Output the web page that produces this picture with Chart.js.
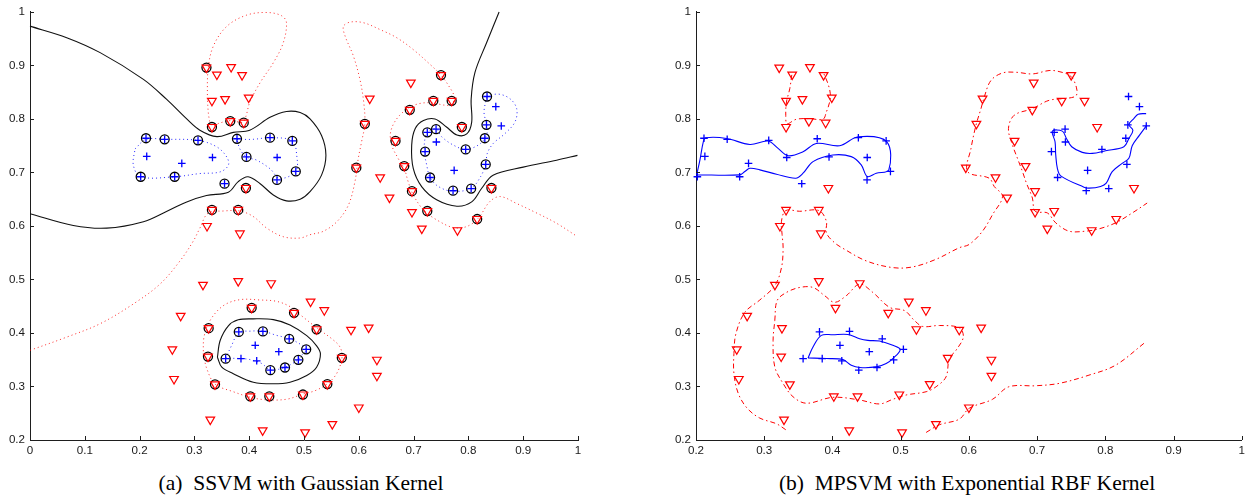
<!DOCTYPE html>
<html><head><meta charset="utf-8">
<script src="https://cdn.jsdelivr.net/npm/chart.js@4/dist/chart.umd.min.js"></script>
<style>
html,body{margin:0;padding:0;background:#fff;width:1249px;height:504px;overflow:hidden}
#wa{position:absolute;left:0;top:0;width:600px;height:460px}
#wb{position:absolute;left:640px;top:0;width:609px;height:460px}
.cap{position:absolute;top:473px;font-family:"Liberation Serif","Times New Roman",serif;font-size:21.5px;line-height:21.5px;color:#000;white-space:pre;transform:translateX(-50%)}
</style></head><body>
<div id="wa"><canvas id="ca"></canvas></div>
<div id="wb"><canvas id="cb"></canvas></div>
<div class="cap" style="left:301px">(a)  SSVM with Gaussian Kernel</div>
<div class="cap" style="left:967px">(b)  MPSVM with Exponential RBF Kernel</div>
<script>
// ---------- tick labels ----------
const xTicksA = [0,0.1,0.2,0.3,0.4,0.5,0.6,0.7,0.8,0.9,1];
const xLabelsA = ['0','0.1','0.2','0.3','0.4','0.5','0.6','0.7','0.8','0.9','1'];
const xTicksB = [0.2,0.3,0.4,0.5,0.6,0.7,0.8,0.9,1];
const xLabelsB = ['0.2','0.3','0.4','0.5','0.6','0.7','0.8','0.9','1'];
const yTicks = [0.2,0.3,0.4,0.5,0.6,0.7,0.8,0.9,1];
const yLabels = ['0.2','0.3','0.4','0.5','0.6','0.7','0.8','0.9','1'];

// ---------- samples: [x, y, isSupportVector] ----------
const negClass = [
 [0.322,0.896,1],[0.341,0.883,0],[0.367,0.897,0],[0.387,0.882,0],[0.332,0.834,0],[0.356,0.837,0],[0.399,0.840,0],
 [0.332,0.785,1],[0.3655,0.796,1],[0.390,0.793,1],[0.394,0.671,1],[0.332,0.630,1],[0.380,0.630,1],[0.323,0.600,0],[0.383,0.586,0],
 [0.750,0.882,1],[0.695,0.868,0],[0.620,0.838,0],[0.736,0.834,1],[0.7695,0.834,1],[0.693,0.817,1],[0.611,0.791,1],[0.788,0.785,1],
 [0.667,0.759,1],[0.5955,0.709,1],[0.683,0.712,1],[0.639,0.691,0],[0.656,0.653,0],[0.697,0.665,1],[0.697,0.626,0],[0.725,0.628,1],
 [0.715,0.595,0],[0.780,0.592,0],[0.816,0.613,1],[0.842,0.671,1],
 [0.3157,0.490,0],[0.380,0.497,0],[0.440,0.493,0],[0.4045,0.447,1],[0.4818,0.4376,1],[0.275,0.432,0],[0.326,0.409,1],
 [0.2597,0.3695,0],[0.3248,0.356,1],[0.2628,0.314,0],[0.3376,0.304,1],[0.402,0.2817,1],[0.4367,0.2817,1],[0.329,0.238,0],[0.4246,0.218,0],
 [0.512,0.4586,0],[0.537,0.4426,0],[0.523,0.407,1],[0.5858,0.406,0],[0.618,0.410,0],[0.569,0.3535,1],[0.633,0.350,0],[0.633,0.320,0],
 [0.5426,0.3045,1],[0.498,0.285,1],[0.600,0.2607,0],[0.5517,0.2297,0],[0.502,0.2143,0]
];
const posClass = [
 [0.2117,0.764,1],[0.2457,0.762,1],[0.3066,0.760,1],[0.3777,0.763,1],[0.438,0.765,1],[0.4787,0.759,1],[0.213,0.730,0],[0.277,0.717,0],
 [0.333,0.728,0],[0.395,0.729,1],[0.451,0.728,0],[0.202,0.692,1],[0.264,0.692,1],[0.355,0.679,1],[0.4507,0.686,1],[0.485,0.702,1],
 [0.834,0.842,1],[0.850,0.823,0],[0.860,0.787,0],[0.833,0.789,1],[0.741,0.781,1],[0.725,0.775,1],[0.830,0.764,1],[0.7415,0.757,0],
 [0.795,0.743,1],[0.721,0.739,1],[0.8316,0.715,1],[0.774,0.704,0],[0.730,0.6906,1],[0.772,0.666,1],[0.805,0.670,1],
 [0.381,0.402,1],[0.425,0.403,1],[0.473,0.389,1],[0.411,0.377,0],[0.454,0.365,0],[0.357,0.352,1],[0.385,0.352,0],[0.4137,0.348,0],
 [0.4386,0.3305,1],[0.4653,0.3355,1],[0.4897,0.3498,1],[0.504,0.3695,1]
];

// ---------- (a) SSVM contour traces ----------
const ssvmZeroA = [[0,0.9735],[0.067,0.952],[0.128,0.924],[0.207,0.874],[0.249,0.837],[0.286,0.800],[0.310,0.779],[0.341,0.767],[0.371,0.775],[0.401,0.779],[0.438,0.803],[0.468,0.814],[0.493,0.812],[0.511,0.800],[0.532,0.769],[0.540,0.732],[0.532,0.695],[0.511,0.664],[0.493,0.650],[0.468,0.647],[0.444,0.658],[0.420,0.679],[0.398,0.692],[0.380,0.683],[0.362,0.663],[0.322,0.657],[0.286,0.645],[0.249,0.627],[0.207,0.608],[0.140,0.596],[0.079,0.601],[0,0.623]];
const ssvmZeroB = [[0.856,1.0],[0.833,0.942],[0.812,0.887],[0.805,0.837],[0.806,0.794],[0.797,0.772],[0.779,0.770],[0.760,0.785],[0.739,0.800],[0.718,0.797],[0.703,0.782],[0.6965,0.751],[0.6995,0.707],[0.715,0.673],[0.742,0.649],[0.779,0.637],[0.806,0.645],[0.824,0.670],[0.845,0.695],[0.900,0.710],[0.961,0.723],[0.999,0.732]];
const ssvmZeroC = [[0.342,0.3546],[0.347,0.386],[0.362,0.4135],[0.380,0.4246],[0.4075,0.4264],[0.444,0.425],[0.4745,0.415],[0.505,0.395],[0.523,0.376],[0.530,0.361],[0.523,0.336],[0.505,0.3206],[0.4745,0.308],[0.444,0.305],[0.4075,0.308],[0.371,0.324],[0.350,0.336],[0.342,0.3546]];
const ssvmNegA = [[0,0.3676],[0.067,0.3923],[0.1277,0.4172],[0.1886,0.4543],[0.2372,0.4914],[0.2737,0.5347],[0.298,0.5718],[0.310,0.596],[0.325,0.624],[0.353,0.628],[0.383,0.628],[0.4075,0.6176],[0.432,0.596],[0.462,0.580],[0.493,0.5775],[0.511,0.5837],[0.535,0.590],[0.560,0.608],[0.581,0.639],[0.593,0.683],[0.599,0.726],[0.605,0.757],[0.611,0.791],[0.609,0.831],[0.602,0.874],[0.590,0.918],[0.575,0.955],[0.572,0.973],[0.584,0.981],[0.608,0.980],[0.639,0.967],[0.669,0.952],[0.699,0.930],[0.730,0.902],[0.750,0.882],[0.764,0.862],[0.774,0.842],[0.770,0.827],[0.755,0.826],[0.736,0.830],[0.7117,0.829],[0.690,0.820],[0.669,0.800],[0.658,0.775],[0.660,0.751],[0.672,0.726],[0.683,0.707],[0.690,0.683],[0.6995,0.658],[0.718,0.630],[0.742,0.6115],[0.7725,0.597],[0.797,0.599],[0.818,0.6145],[0.839,0.6455],[0.858,0.655],[0.888,0.642],[0.925,0.624],[0.961,0.605],[0.999,0.580]];
const ssvmNegB = [[0.3236,0.837],[0.325,0.893],[0.3345,0.936],[0.359,0.973],[0.395,0.994],[0.432,0.999],[0.459,0.993],[0.468,0.980],[0.462,0.942],[0.444,0.905],[0.420,0.868],[0.401,0.831],[0.394,0.805],[0.388,0.794],[0.366,0.797],[0.345,0.792],[0.333,0.787],[0.327,0.800],[0.3236,0.837]];
const ssvmNegC = [[0.3163,0.3583],[0.3175,0.3923],[0.3285,0.4233],[0.3528,0.4511],[0.3832,0.4623],[0.4197,0.4617],[0.4501,0.4591],[0.4745,0.4493],[0.4927,0.4344],[0.5232,0.4097],[0.5505,0.3893],[0.5657,0.3737],[0.5693,0.354],[0.5597,0.3244],[0.5426,0.3051],[0.5201,0.2921],[0.4982,0.2859],[0.470,0.2765],[0.438,0.2748],[0.4075,0.2785],[0.371,0.2902],[0.3376,0.3045],[0.3236,0.3305],[0.3163,0.3583]];
const ssvmPosA = [[0.1916,0.744],[0.2117,0.762],[0.2457,0.762],[0.3066,0.760],[0.3406,0.748],[0.359,0.729],[0.362,0.7136],[0.3467,0.701],[0.310,0.698],[0.264,0.692],[0.202,0.692],[0.1886,0.7136],[0.1916,0.744]];
const ssvmPosB = [[0.3777,0.762],[0.4075,0.762],[0.438,0.765],[0.4787,0.759],[0.4867,0.732],[0.485,0.702],[0.456,0.689],[0.438,0.707],[0.4137,0.723],[0.395,0.729],[0.383,0.744],[0.3777,0.762]];
const ssvmPosC = [[0.834,0.8422],[0.8546,0.8465],[0.8759,0.8378],[0.8881,0.8192],[0.885,0.7945],[0.8668,0.7728],[0.8454,0.7543],[0.8345,0.7357],[0.8316,0.7153],[0.8224,0.6925],[0.8053,0.6707],[0.7719,0.6646],[0.7451,0.6739],[0.7299,0.6911],[0.7239,0.7141],[0.7195,0.7394],[0.7208,0.7636],[0.725,0.7754],[0.7409,0.7815],[0.7513,0.7667],[0.7725,0.7512],[0.7951,0.7431],[0.8181,0.7512],[0.8303,0.7643],[0.8345,0.776],[0.8334,0.7895],[0.8285,0.8131],[0.834,0.8422]];
const ssvmPosD = [[0.3571,0.3528],[0.368,0.3769],[0.3808,0.401],[0.4015,0.4034],[0.4252,0.4034],[0.4501,0.3955],[0.4732,0.3899],[0.4866,0.383],[0.5042,0.370],[0.4958,0.3583],[0.4897,0.3503],[0.4653,0.3361],[0.4386,0.331],[0.4228,0.343],[0.4015,0.3503],[0.385,0.3522],[0.3571,0.3528]];

// ---------- (b) MPSVM contour traces ----------
const mpPosA = [[0.201,0.6956],[0.2058,0.7234],[0.2107,0.7574],[0.2142,0.7648],[0.2449,0.7636],[0.279,0.7524],[0.3057,0.7587],[0.3203,0.745],[0.335,0.7314],[0.3569,0.7388],[0.3764,0.7543],[0.4105,0.750],[0.438,0.7667],[0.4797,0.7574],[0.4826,0.7049],[0.4642,0.6986],[0.451,0.6924],[0.4422,0.7142],[0.4276,0.7296],[0.4007,0.7327],[0.3715,0.7203],[0.3569,0.6986],[0.3462,0.6893],[0.318,0.6967],[0.2936,0.7049],[0.279,0.7078],[0.2716,0.7017],[0.2643,0.6956],[0.201,0.6956]];
const mpPosB = [[0.8598,0.81],[0.8481,0.8088],[0.8418,0.8007],[0.8345,0.7895],[0.8404,0.7791],[0.8345,0.7636],[0.8272,0.7481],[0.8004,0.7407],[0.7808,0.7357],[0.7662,0.7376],[0.7507,0.7481],[0.7429,0.7636],[0.737,0.7773],[0.7224,0.7773],[0.7263,0.7574],[0.7273,0.7327],[0.7297,0.7078],[0.7346,0.6937],[0.7687,0.6726],[0.776,0.6707],[0.7931,0.6739],[0.8013,0.680],[0.8101,0.7017],[0.8247,0.7171],[0.8345,0.7264],[0.8394,0.750],[0.8501,0.7698],[0.8608,0.7884]];
const mpPosC = [[0.3642,0.3533],[0.3715,0.3738],[0.3837,0.3955],[0.4007,0.3967],[0.4227,0.3973],[0.4398,0.3893],[0.4519,0.3862],[0.469,0.3849],[0.4885,0.3769],[0.4993,0.3689],[0.4885,0.3522],[0.4788,0.3429],[0.4642,0.3366],[0.4398,0.3355],[0.4276,0.3398],[0.4153,0.3503],[0.3911,0.3522],[0.3642,0.3533]];
const mpNegA = [[0.3404,0.8824],[0.3374,0.8563],[0.3326,0.8317],[0.3316,0.8069],[0.3335,0.7914],[0.3472,0.7995],[0.3667,0.8007],[0.3861,0.7995],[0.3911,0.8131],[0.3959,0.8317],[0.3969,0.8471],[0.3935,0.8656],[0.3871,0.8855]];
const mpNegB = [[0.3316,0.2191],[0.318,0.2303],[0.2936,0.2409],[0.275,0.2594],[0.2619,0.2872],[0.2556,0.3244],[0.2556,0.3615],[0.2585,0.3986],[0.2716,0.4387],[0.2936,0.4617],[0.3155,0.4883],[0.3253,0.5222],[0.3277,0.5593],[0.3262,0.5842],[0.3253,0.6089],[0.3316,0.6288],[0.352,0.6275],[0.3803,0.6288],[0.3911,0.6089],[0.3911,0.5872],[0.4032,0.5686],[0.4178,0.5564],[0.4496,0.5347],[0.4885,0.5222],[0.5177,0.5235],[0.5519,0.5378],[0.586,0.5594],[0.6006,0.5656],[0.62,0.5903],[0.6347,0.6213],[0.6493,0.6553],[0.6371,0.6739],[0.6298,0.6893],[0.5981,0.7017],[0.6031,0.745],[0.6104,0.7884],[0.6177,0.8192],[0.6225,0.8409],[0.6323,0.8719],[0.6493,0.886],[0.6689,0.8873],[0.6931,0.8842],[0.7175,0.8905],[0.7322,0.8886],[0.7493,0.8799],[0.7575,0.8595],[0.7575,0.8441],[0.7468,0.8391],[0.7175,0.8348],[0.6931,0.8192],[0.6664,0.8069],[0.658,0.7821],[0.6639,0.7513],[0.6712,0.7264],[0.6785,0.7017],[0.6844,0.680],[0.6931,0.6522],[0.6971,0.6275],[0.7151,0.6243],[0.7273,0.6058],[0.7468,0.5903],[0.7712,0.5903],[0.7906,0.5946],[0.815,0.6058],[0.8394,0.6243],[0.8613,0.6429]];
const mpNegC = [[0.3155,0.4233],[0.3189,0.4604],[0.3326,0.4758],[0.352,0.4851],[0.3715,0.4851],[0.3886,0.4697],[0.4032,0.4573],[0.4203,0.4697],[0.4398,0.4914],[0.4592,0.4758],[0.4836,0.448],[0.5056,0.4419],[0.5202,0.4233],[0.5323,0.4122],[0.5567,0.414],[0.586,0.4097],[0.5918,0.3923],[0.5811,0.3676],[0.5713,0.3522],[0.5665,0.318],[0.5519,0.2995],[0.5373,0.2902],[0.508,0.2841],[0.4885,0.2761],[0.469,0.2674],[0.4398,0.2748],[0.4007,0.2798],[0.3618,0.2687],[0.3422,0.2809],[0.3276,0.3058],[0.3155,0.3366],[0.313,0.3862],[0.3155,0.4233]];
const mpNegD = [[0.5373,0.2141],[0.5567,0.2284],[0.586,0.239],[0.6006,0.2594],[0.6347,0.2761],[0.6586,0.2995],[0.6981,0.3014],[0.7322,0.3058],[0.776,0.3212],[0.815,0.3398],[0.8589,0.383]];

// ---------- helpers ----------
const RED='#ff0000', BLUE='#0000ff', BLACK='#111111', AXIS='#1e1e1e';
const toXY = a => a.map(p => ({x:p[0], y:p[1]}));
function curve(arr, color, dash, width){
  return {data:toXY(arr), showLine:true, pointRadius:0, borderColor:color, borderWidth:width,
          borderDash:dash, tension:0.35, fill:false, clip:false, order:3};
}
function triangles(arr){
  return {data:toXY(arr), showLine:false, pointStyle:'triangle', pointRotation:180, pointRadius:5,
          pointBorderColor:RED, pointBackgroundColor:'rgba(0,0,0,0)', pointBorderWidth:1.2, clip:false, order:0};
}
function crosses(arr){
  return {data:toXY(arr), showLine:false, pointStyle:'cross', pointRadius:3.8,
          pointBorderColor:BLUE, pointBorderWidth:1.3, clip:false, order:0};
}
function rings(arr){
  return {data:toXY(arr), showLine:false, pointStyle:'circle', pointRadius:4.5,
          pointBorderColor:'#000', pointBackgroundColor:'rgba(0,0,0,0)', pointBorderWidth:1.3, clip:false, order:1};
}
const inwardTicks = {
  id:'inwardTicks',
  afterDraw(chart){
    const ctx=chart.ctx, a=chart.chartArea, xs=chart.scales.x, ys=chart.scales.y;
    ctx.save(); ctx.strokeStyle=AXIS; ctx.lineWidth=1; ctx.beginPath();
    xs.ticks.forEach(t=>{const p=Math.round(xs.getPixelForValue(t.value))+0.5; ctx.moveTo(p,a.bottom); ctx.lineTo(p,a.bottom-4);});
    ys.ticks.forEach(t=>{const p=Math.round(ys.getPixelForValue(t.value))+0.5; ctx.moveTo(a.left,p); ctx.lineTo(a.left+4,p);});
    ctx.stroke(); ctx.restore();
  }
};
const tickFont = {family:'"Liberation Sans", Arial, Helvetica, sans-serif', size:11.6};
function options(xt, xl, yw, padR){
  return {
    responsive:true, maintainAspectRatio:false, animation:false, events:[],
    layout:{padding:{top:9,right:padR,bottom:0,left:0}},
    plugins:{legend:{display:false}, tooltip:{enabled:false}},
    scales:{
      x:{type:'linear', min:xt[0], max:xt[xt.length-1],
         afterBuildTicks:s=>{s.ticks = xt.map(v=>({value:v}));},
         afterFit:s=>{s.height=20;},
         grid:{display:false, drawTicks:false},
         border:{display:true, color:AXIS, width:1},
         ticks:{padding:4, font:tickFont, color:'#1a1a1a', maxRotation:0, autoSkip:false, callback:(v,i)=>xl[i]}},
      y:{type:'linear', min:yTicks[0], max:yTicks[yTicks.length-1],
         afterBuildTicks:s=>{s.ticks = yTicks.map(v=>({value:v}));},
         afterFit:s=>{s.width=yw;},
         grid:{display:false, drawTicks:false},
         border:{display:true, color:AXIS, width:1},
         ticks:{padding:5, font:tickFont, color:'#1a1a1a', autoSkip:false, callback:(v,i)=>yLabels[i]}}
    }
  };
}

const negXY = negClass.map(p=>[p[0],p[1]]);
const posXY = posClass.map(p=>[p[0],p[1]]);
const svXY = negClass.concat(posClass).filter(p=>p[2]===1).map(p=>[p[0],p[1]]);

new Chart(document.getElementById('ca'), {
  type:'scatter',
  data:{datasets:[
    triangles(negXY), crosses(posXY), rings(svXY),
    curve(ssvmZeroA, BLACK, [], 1.1), curve(ssvmZeroB, BLACK, [], 1.1), curve(ssvmZeroC, BLACK, [], 1.1),
    curve(ssvmNegA, 'rgba(255,0,0,0.85)', [1,3], 1), curve(ssvmNegB, 'rgba(255,0,0,0.85)', [1,3], 1), curve(ssvmNegC, 'rgba(255,0,0,0.85)', [1,3], 1),
    curve(ssvmPosA, 'rgba(0,0,255,0.85)', [1,3], 1), curve(ssvmPosB, 'rgba(0,0,255,0.85)', [1,3], 1),
    curve(ssvmPosC, 'rgba(0,0,255,0.85)', [1,3], 1), curve(ssvmPosD, 'rgba(0,0,255,0.85)', [1,3], 1)
  ]},
  options:options(xTicksA, xLabelsA, 30, 22),
  plugins:[inwardTicks]
});

new Chart(document.getElementById('cb'), {
  type:'scatter',
  data:{datasets:[
    triangles(negXY), crosses(posXY),
    curve(mpPosA, BLUE, [], 1.1), curve(mpPosB, BLUE, [], 1.1), curve(mpPosC, BLUE, [], 1.1),
    curve(mpNegA, RED, [5,3,1.5,3], 1), curve(mpNegB, RED, [5,3,1.5,3], 1),
    curve(mpNegC, RED, [5,3,1.5,3], 1), curve(mpNegD, RED, [5,3,1.5,3], 1)
  ]},
  options:options(xTicksB, xLabelsB, 56, 6),
  plugins:[inwardTicks]
});
</script>
</body></html>
